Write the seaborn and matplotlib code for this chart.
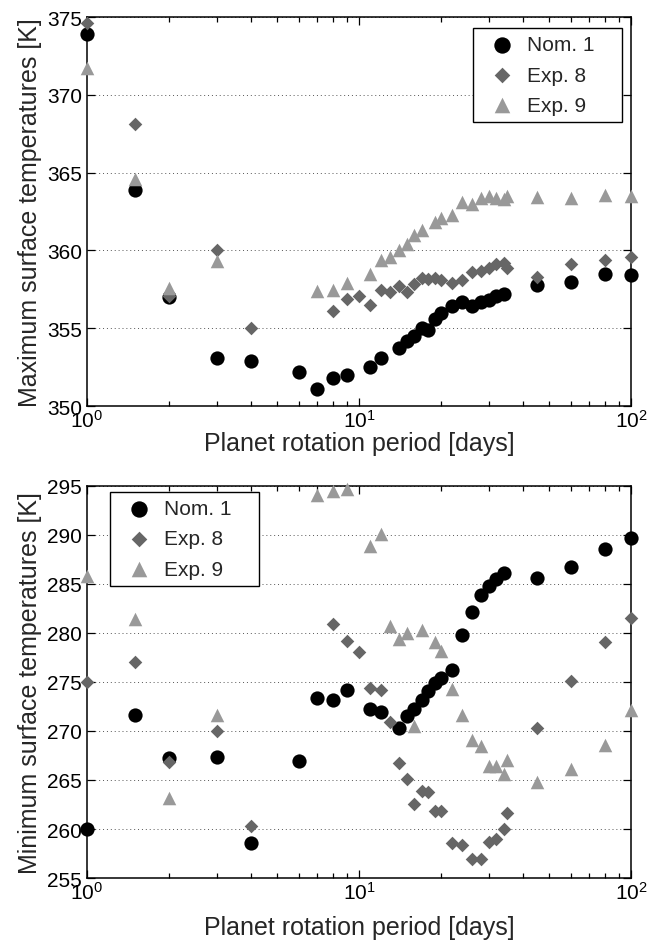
import matplotlib
matplotlib.use("Agg")
import numpy as np
import pandas as pd
import matplotlib.pyplot as plt
import seaborn as sns
from matplotlib.ticker import LogLocator, MultipleLocator, NullFormatter

# ---------------- data ----------------
series_names = ["Nom. 1", "Exp. 8", "Exp. 9"]

periods_nom = [1, 1.5, 2, 3, 4, 6, 7, 8, 9, 11, 12, 14, 15, 16, 17, 18, 19, 20,
               22, 24, 26, 28, 30, 32, 34, 45, 60, 80, 100]
tmax_nom = [373.9, 363.9, 357.0, 353.1, 352.9, 352.2, 351.1, 351.8, 352.0, 352.5,
            353.1, 353.7, 354.2, 354.5, 355.0, 354.9, 355.6, 356.0, 356.4, 356.7,
            356.4, 356.7, 356.8, 357.1, 357.2, 357.8, 358.0, 358.5, 358.4]
tmin_nom = [260.0, 271.6, 267.2, 267.3, 258.6, 266.9, 273.4, 273.2, 274.2, 272.2,
            271.9, 270.3, 271.5, 272.2, 273.2, 274.1, 274.9, 275.4, 276.2, 279.8,
            282.1, 283.9, 284.8, 285.5, 286.1, 285.6, 286.7, 288.6, 289.7]

periods_e8 = [1, 1.5, 2, 3, 4, 8, 9, 10, 11, 12, 13, 14, 15, 16, 17, 18, 19, 20,
              22, 24, 26, 28, 30, 32, 34, 35, 45, 60, 80, 100]
tmax_e8 = [374.6, 368.1, 357.1, 360.0, 355.0, 356.1, 356.9, 357.05, 356.5, 357.45,
           357.3, 357.7, 357.3, 357.85, 358.2, 358.15, 358.2, 358.1, 357.9, 358.1,
           358.6, 358.7, 358.9, 359.1, 359.2, 358.9, 358.3, 359.1, 359.4, 359.55]
tmin_e8 = [275.0, 277.05, 266.85, 270.0, 260.3, 280.9, 279.2, 278.0, 274.4, 274.2,
           270.9, 266.7, 265.15, 262.5, 263.9, 263.8, 261.8, 261.85, 258.6, 258.35,
           256.9, 256.9, 258.7, 259.0, 260.05, 261.6, 270.25, 275.1, 279.1, 281.5]

periods_e9 = [1, 1.5, 2, 3, 7, 8, 9, 11, 12, 13, 14, 15, 16, 17, 19, 20,
              22, 24, 26, 28, 30, 32, 34, 35, 45, 60, 80, 100]
tmax_e9 = [371.7, 364.6, 357.6, 359.3, 357.4, 357.45, 357.9, 358.5, 359.4, 359.6,
           360.0, 360.4, 361.0, 361.3, 361.8, 362.1, 362.3, 363.1, 363.0, 363.35,
           363.5, 363.35, 363.3, 363.5, 363.45, 363.35, 363.55, 363.5]
tmin_e9 = [285.75, 281.4, 263.15, 271.6, 294.1, 294.5, 294.65, 288.9, 290.1, 280.7,
           279.4, 280.0, 270.5, 280.3, 279.1, 278.2, 274.3, 271.6, 269.05, 268.5,
           266.4, 266.4, 265.6, 267.0, 264.8, 266.1, 268.6, 272.1]

# ---------------- table ----------------
frames = []
for name, p, tmax, tmin in zip(series_names,
                               [periods_nom, periods_e8, periods_e9],
                               [tmax_nom, tmax_e8, tmax_e9],
                               [tmin_nom, tmin_e8, tmin_e9]):
    frames.append(pd.DataFrame({"period": p, "tmax": tmax, "tmin": tmin, "series": name}))
df = pd.concat(frames, ignore_index=True)

styles = {
    "Nom. 1": dict(marker="o", color="#000000", s=105),
    "Exp. 8": dict(marker="D", color="#666666", s=48),
    "Exp. 9": dict(marker="^", color="#999999", s=95),
}

# ---------------- style ----------------
sns.set_style("ticks")
plt.rcParams["font.family"] = ["Liberation Sans", "DejaVu Sans"]
plt.rcParams["mathtext.fontset"] = "custom"
plt.rcParams["mathtext.rm"] = "Liberation Sans"
plt.rcParams["mathtext.it"] = "Liberation Sans:italic"
FS = 15
LFS = 18

fig = plt.figure(figsize=(6.58, 9.45), dpi=100)
ax1 = fig.add_axes([0.1322, 0.5693, 0.8267, 0.4116])
ax2 = fig.add_axes([0.1322, 0.0698, 0.8267, 0.4151])


def draw(ax, ycol, ylim, ylabel, leg_box, xpad):
    for name in series_names:
        sub = df[df["series"] == name]
        st = styles[name]
        sns.scatterplot(data=sub, x="period", y=ycol, ax=ax, marker=st["marker"],
                        color=st["color"], s=st["s"], linewidth=0, label=name,
                        clip_on=False, zorder=3)
    ax.set_xscale("log")
    ax.set_xlim(1, 100)
    ax.set_ylim(*ylim)
    ax.yaxis.set_major_locator(MultipleLocator(5))
    ax.xaxis.set_major_locator(LogLocator(base=10, numticks=10))
    ax.xaxis.set_minor_locator(LogLocator(base=10, subs=np.arange(2, 10), numticks=20))
    ax.xaxis.set_minor_formatter(NullFormatter())
    ax.tick_params(axis="both", which="both", direction="in", top=True, right=True,
                   labelsize=FS, colors="black")
    ax.tick_params(which="major", length=6, width=0.9)
    ax.tick_params(which="minor", length=3.5, width=0.9)
    ax.tick_params(axis="x", pad=2)
    ax.yaxis.grid(True, linestyle=(0, (1, 3)), color="#555555", linewidth=0.7)
    ax.xaxis.grid(False)
    for sp in ax.spines.values():
        sp.set_visible(True)
        sp.set_color("black")
        sp.set_linewidth(1.1)
    ax.set_xlabel("Planet rotation period [days]", fontsize=LFS, labelpad=xpad)
    ax.set_ylabel(ylabel, fontsize=LFS, labelpad=4)
    leg = ax.legend(fontsize=FS, frameon=True, fancybox=False, framealpha=1,
                    edgecolor="black", borderaxespad=0, handletextpad=0.15,
                    borderpad=0.35, labelspacing=0.54, handlelength=2.1,
                    markerscale=1.15, loc="upper left", mode="expand",
                    bbox_to_anchor=leg_box)
    leg.get_frame().set_linewidth(1.0)
    leg.set_zorder(5)


W = 544.0
draw(ax1, "tmax", (350, 375), "Maximum surface temperatures [K]",
     ((473 - 87) / W, 0.3, 149 / W, 1 - (29 - 18) / 389 - 0.3), 0)
draw(ax2, "tmin", (255, 295), "Minimum surface temperatures [K]",
     ((110 - 87) / W, 0.3, 149 / W, 1 - (493 - 487) / 392 - 0.3), 9)

fig.savefig("out.png", dpi=100)
